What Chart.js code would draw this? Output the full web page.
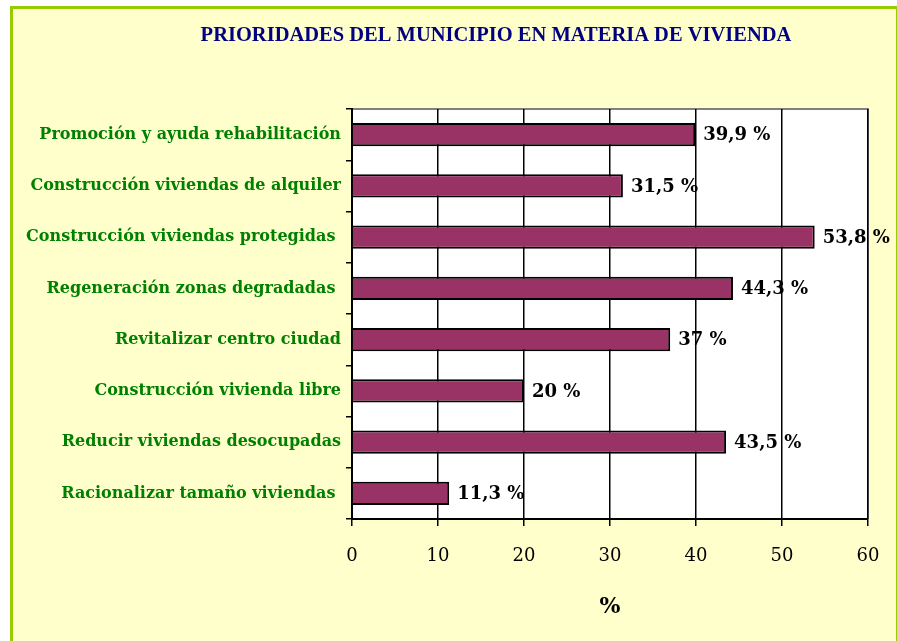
<!DOCTYPE html>
<html>
<head>
<meta charset="utf-8">
<script src="https://cdn.jsdelivr.net/npm/chart.js@4"></script>
<style>
  body { margin: 0; background: #ffffff; }
  #box {
    position: absolute; left: 10px; top: 6px; width: 883px; height: 640px;
    background: #FFFFCC;
    border-left: 3px solid #99CC00; border-top: 3px solid #99CC00; border-right: 1px solid #99CC00;
  }
  #wrap { position: absolute; left: 0; top: 0; width: 897px; height: 641px; }
</style>
</head>
<body>
<div id="box"></div>
<div id="wrap"><canvas id="chart"></canvas></div>
<script>
// Datos del gráfico
const categorias = [
    "Promoción y ayuda rehabilitación",
    "Construcción viviendas de alquiler",
    "Construcción viviendas protegidas ",
    "Regeneración zonas degradadas ",
    "Revitalizar centro ciudad",
    "Construcción vivienda libre",
    "Reducir viviendas desocupadas",
    "Racionalizar tamaño viviendas "
];
const porcentajes = [39.9, 31.5, 53.8, 44.3, 37, 20, 43.5, 11.3];
const ticksX = [0, 10, 20, 30, 40, 50, 60];
const titulo = "PRIORIDADES DEL MUNICIPIO EN MATERIA DE VIVIENDA";

// Fondo blanco del área de trazado + título
const fondoArea = {
    id: 'fondoArea',
    beforeDraw(chart) {
        const { ctx, chartArea: a } = chart;
        ctx.save();
        ctx.fillStyle = '#ffffff';
        ctx.fillRect(a.left, a.top, a.right - a.left, a.bottom - a.top);
        ctx.strokeStyle = '#808080';
        ctx.lineWidth = 2;
        ctx.beginPath();
        ctx.moveTo(a.left, a.top);
        ctx.lineTo(a.right, a.top);
        ctx.lineTo(a.right, a.bottom);
        ctx.stroke();

        ctx.font = 'bold 20.5px "Liberation Serif"';
        ctx.fillStyle = '#000080';
        ctx.textAlign = 'center';
        ctx.textBaseline = 'middle';
        ctx.fillText(titulo, 496, 36);
        ctx.restore();
    }
};

// Etiquetas de valor al final de cada barra
const etiquetas = {
    id: 'etiquetas',
    afterDatasetsDraw(chart) {
        const { ctx } = chart;
        const meta = chart.getDatasetMeta(0);
        ctx.save();
        ctx.font = 'bold 18px "DejaVu Serif"';
        ctx.fillStyle = '#000000';
        ctx.textBaseline = 'middle';
        meta.data.forEach((bar, i) => {
            const txt = String(porcentajes[i]).replace('.', ',') + ' %';
            ctx.fillText(txt, bar.x + 8, bar.y + 1);
        });
        ctx.restore();
    }
};

new Chart(document.getElementById('chart'), {
    type: 'bar',
    data: {
        labels: categorias,
        datasets: [{
            data: porcentajes,
            backgroundColor: '#993366',
            borderColor: '#000000',
            borderWidth: 2,
            categoryPercentage: 1,
            barPercentage: 0.45
        }]
    },
    options: {
        indexAxis: 'y',
        responsive: true,
        maintainAspectRatio: false,
        animation: false,
        layout: { padding: { left: 0, right: 29, top: 109, bottom: 0 } },
        plugins: {
            legend: { display: false },
            tooltip: { enabled: false },
            title: { display: false }
        },
        scales: {
            x: {
                min: 0, max: 60,
                afterBuildTicks: s => { s.ticks = ticksX.map(v => ({ value: v })); },
                afterFit: s => { s.height = 122; s.paddingLeft = 0; s.paddingRight = 0; },
                ticks: {
                    color: '#000000',
                    font: { family: '"DejaVu Serif"', size: 18 },
                    padding: 20
                },
                grid: { color: '#000000', lineWidth: 1.5, tickLength: 7 },
                border: { color: '#000000', width: 2 },
                title: {
                    display: true,
                    text: '%',
                    color: '#000000',
                    font: { family: '"DejaVu Serif"', size: 22, weight: 'bold' },
                    padding: { top: 0, bottom: 21 }
                }
            },
            y: {
                afterFit: s => { s.width = 352; s.paddingTop = 0; s.paddingBottom = 0; },
                ticks: {
                    color: '#008000',
                    font: { family: '"DejaVu Serif"', size: 16, weight: 'bold' },
                    padding: 5
                },
                grid: { offset: true, drawOnChartArea: false, color: '#000000', lineWidth: 1.5, tickLength: 6 },
                border: { color: '#000000', width: 2 }
            }
        }
    },
    plugins: [fondoArea, etiquetas]
});
</script>
</body>
</html>
